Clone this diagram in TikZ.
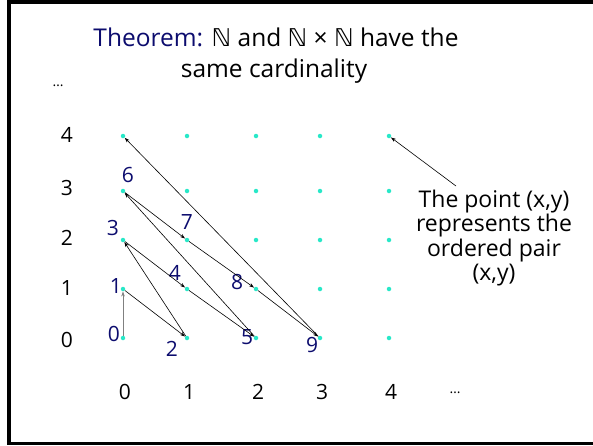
\documentclass[tikz,border=0pt]{standalone}
\usepackage{fontspec}
\setmainfont{Open Sans}
\newfontfamily\symfont{DejaVu Sans}
\usetikzlibrary{arrows.meta}
\definecolor{dotcyan}{RGB}{40,232,200}
\definecolor{numnavy}{RGB}{12,12,110}
\newcommand{\Nat}{{\symfont ℕ}}

\begin{document}
\begin{tikzpicture}[x=1pt, y=-1pt,
    pt/.style={circle, fill=dotcyan, inner sep=0pt, minimum size=4.5pt},
    axis/.style={font=\fontsize{21}{21}\selectfont},
    num/.style={text=numnavy, font=\fontsize{21}{21}\selectfont},
    hop/.style={-{Stealth[length=5pt, width=3.5pt]}, line width=0.6pt}]
    \useasboundingbox (0,0) rectangle (593,445);

    % Slide frame
    \draw[line width=3.3pt] (593,2) -- (9,2) -- (9,443.5) -- (593,443.5);

    % Title
    \node[anchor=base, font=\fontsize{24.5}{30}\selectfont] (title1) at (276,46)
        {\textcolor{numnavy}{Theorem:} \Nat{} and \Nat{} × \Nat{} have the};
    \node[anchor=base, font=\fontsize{24.5}{30}\selectfont] (title2) at (274,77) {same cardinality};

    % Grid of points and x labels
    \foreach \i/\x in {0/123,1/187,2/256,3/320,4/389} {
        \foreach \j/\y in {0/338,1/289,2/240,3/191,4/136} {
            \node[pt] (p\i\j) at (\x,\y) {};
        }
        \node[axis] (xl\i) at (\x+2,392) {\i};
    }

    % y labels
    \foreach \j/\y in {0/340,1/288,2/238,3/188,4/135} {
        \node[axis] (yl\j) at (67,\y) {\j};
    }
    \node[font=\fontsize{14}{14}\selectfont] (moreY) at (58,86) {…};
    \node[font=\fontsize{14}{14}\selectfont] (moreX) at (455,393) {…};

    % Numbering of the pairs
    \foreach \n/\x/\y in {0/114/334,1/116/286,2/172/349,3/113/228,4/175/273,
                          5/247/337,6/128/175,7/187/222,8/237/282,9/312/345} {
        \node[num] (n\n) at (\x,\y) {\n};
    }

    % Walk along the diagonals
    \draw[hop, gray] (p00) -- (p01);
    \foreach \a/\b in {p01/p10,p10/p02,p02/p11,p11/p20,p20/p03,
                       p03/p12,p12/p21,p21/p30,p30/p04} {
        \draw[hop] (\a) -- (\b);
    }

    % Note
    \node[align=center, font=\fontsize{23}{24.5}\selectfont] (note) at (494,238)
        {The point (x,y)\\represents the\\ordered pair\\(x,y)};
    \coordinate (noteTip) at (456,186);
    \draw[hop] (noteTip) -- (p44);
\end{tikzpicture}
\end{document}
